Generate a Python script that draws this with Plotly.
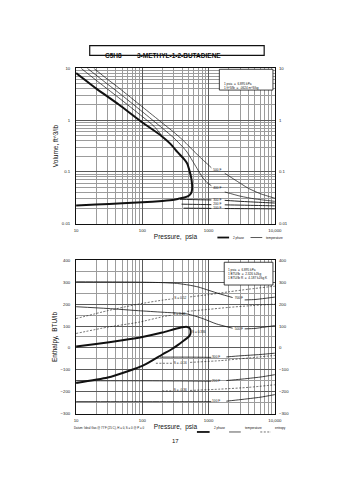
import plotly.graph_objects as go

# ---------------- Top chart: Volume vs Pressure ----------------
vol_sat_p = [10, 20, 44, 100, 192, 270, 340, 420, 475, 520, 548, 562, 565, 560, 545, 520, 480, 430, 360, 300, 200, 100, 50, 20, 10]
vol_sat_v = [8.1, 4.1, 2.0, 0.9, 0.5, 0.34, 0.24, 0.18, 0.145, 0.10, 0.075, 0.058, 0.05, 0.044, 0.039, 0.036, 0.0335, 0.032, 0.0305, 0.029, 0.0275, 0.0258, 0.0247, 0.0234, 0.0225]

vol_t500_p = [18.5, 30, 44, 100, 200, 300, 400, 474, 600, 800, 1000, 1100, None, 1750, 2500, 4000, 6000, 10000]
vol_t500_v = [10, 6.1, 4.2, 1.8, 0.88, 0.58, 0.42, 0.34, 0.25, 0.175, 0.135, 0.12, None, 0.094, 0.07, 0.048, 0.038, 0.031]
vol_t400_p = [14.8, 25, 44, 100, 200, 300, 400, 474, 560, 667, 800, 950, 1100, None, 1750, 3000, 5000, 10000]
vol_t400_v = [10, 5.9, 3.37, 1.45, 0.70, 0.45, 0.31, 0.24, 0.17, 0.117, 0.08, 0.062, 0.054, None, 0.041, 0.034, 0.030, 0.027]
vol_t300_p = [11.9, 20, 44, 100, 150, 195]
vol_t300_v = [10, 5.9, 2.7, 1.17, 0.76, 0.51]
vol_l300_p = [370, 700, 1100, None, 1750, 3000, 6000, 10000]
vol_l300_v = [0.0295, 0.029, 0.0287, None, 0.0282, 0.0270, 0.0258, 0.025]
vol_l200_p = [390, 700, 1100, None, 1750, 3000, 6000, 10000]
vol_l200_v = [0.0238, 0.0235, 0.0233, None, 0.0231, 0.0228, 0.0224, 0.0221]
vol_l100_p = [420, 700, 1100, None, 1750, 3000, 6000, 10000]
vol_l100_v = [0.0199, 0.0198, 0.0197, None, 0.0196, 0.0195, 0.0194, 0.0193]

vol_lab_text = ["500 F", "400 F", "300 F", "200 F", "100 F"]
vol_lab_p = [1350, 1350, 1350, 1350, 1350]
vol_lab_v = [0.107, 0.049, 0.0286, 0.0233, 0.0197]

# ---------------- Bottom chart: Enthalpy vs Pressure ----------------
enth_sat_p = [10, 20, 50, 100, 200, 300, 400, 470, 510, 530, 536, 530, 515, 480, 424, 350, 280, 200, 140, 100, 62, 30, 10]
enth_sat_h = [6, 18, 35, 50, 70, 85, 94, 96, 92, 84, 74, 64, 56, 46, 34, 15, -5, -30, -58, -82, -105, -135, -160]

enth_t700_p = [10, 50, 100, 200, 340, 500, 700, 1000, 1500, 2300, None, 3500, 5000, 7000, 10000]
enth_t700_h = [302, 301, 300, 298, 294, 287, 278, 263, 246, 230, None, 219, 221, 226, 232]
enth_t500_p = [10, 30, 87, 200, 474, 800, 1300, 2300, None, 3500, 5000, 7000, 10000]
enth_t500_h = [188, 180, 170, 163, 155, 135, 110, 90, None, 87, 89, 95, 102]
enth_t300_p = [185, 500, 1100, None, 1850, 3000, 6000, 10000]
enth_t300_h = [-42, -42, -43, None, -41, -36, -30, -24]
enth_t200_p = [10, 100, 500, 1100, None, 1850, 3000, 6000, 10000]
enth_t200_h = [-150, -150, -151, -152, None, -149, -143, -133, -122]
enth_t100_p = [10, 100, 500, 1100, None, 1850, 3000, 6000, 10000]
enth_t100_h = [-245, -245, -245, -245, None, -243, -236, -225, -213]

enth_s052_p = [10, 30, 87, 200, 290, None, 525, 1000, 2000, 4000, 10000]
enth_s052_h = [134, 170, 200, 218, 224, None, 233, 243, 256, 268, 282]
enth_s042_p = [10, 30, 87, 200, 280, None, 474, 1000, 2000, 4000, 10000]
enth_s042_h = [66, 95, 117, 142, 150, None, 167, 176, 185, 192, 200]
enth_sm016_p = [160, 290, None, 525, 1500, 4000, 10000]
enth_sm016_h = [-70, -70, None, -66, -58, -46, -34]
enth_sm036_p = [200, 290, None, 525, 1500, 4000, 10000]
enth_sm036_h = [-196, -196, None, -194, -188, -180, -168]

enth_lab_text = ["700 F", "500 F", "300 F", "200 F", "100 F", "S = 0.52", "S = 0.42", "S = 0.336", "S = -0.16", "S = -0.36"]
enth_lab_p = [2850, 2850, 1300, 1300, 1300, 374, 360, 710, 374, 374]
enth_lab_h = [225, 87, -42, -150, -243, 227, 155, 72, -70, -195]

FONT = "Liberation Sans, Arial, sans-serif"
W, H = 355, 480

fig = go.Figure()


def line(px, py, xa, ya, width, dash="solid", smooth=True):
    fig.add_trace(go.Scatter(
        x=px, y=py, xaxis=xa, yaxis=ya, mode="lines",
        line=dict(color="#111", width=width, dash=dash,
                  shape="spline" if smooth else "linear", smoothing=0.6),
        connectgaps=False, showlegend=False, hoverinfo="skip"))


# top chart lines
line(vol_sat_p, vol_sat_v, "x", "y", 2.0)
line(vol_t500_p, vol_t500_v, "x", "y", 0.7)
line(vol_t400_p, vol_t400_v, "x", "y", 0.7)
line(vol_t300_p, vol_t300_v, "x", "y", 0.7)
line(vol_l300_p, vol_l300_v, "x", "y", 0.9)
line(vol_l200_p, vol_l200_v, "x", "y", 0.9)
line(vol_l100_p, vol_l100_v, "x", "y", 0.9)
fig.add_trace(go.Scatter(x=vol_lab_p, y=vol_lab_v, text=vol_lab_text, mode="text",
                         textfont=dict(size=3.2, family=FONT, color="#111"),
                         xaxis="x", yaxis="y", showlegend=False, hoverinfo="skip"))

# bottom chart lines
line(enth_sat_p, enth_sat_h, "x2", "y2", 2.0)
for px, py in [(enth_t700_p, enth_t700_h), (enth_t500_p, enth_t500_h),
               (enth_t300_p, enth_t300_h), (enth_t200_p, enth_t200_h),
               (enth_t100_p, enth_t100_h)]:
    line(px, py, "x2", "y2", 0.8)
for px, py in [(enth_s052_p, enth_s052_h), (enth_s042_p, enth_s042_h),
               (enth_sm016_p, enth_sm016_h), (enth_sm036_p, enth_sm036_h)]:
    line(px, py, "x2", "y2", 0.6, dash="2px,1.5px")
fig.add_trace(go.Scatter(x=enth_lab_p, y=enth_lab_h, text=enth_lab_text, mode="text",
                         textfont=dict(size=3.2, family=FONT, color="#111"),
                         xaxis="x2", yaxis="y2", showlegend=False, hoverinfo="skip"))

# invisible anchors for right-hand axes
fig.add_trace(go.Scatter(x=[10], y=[1], xaxis="x", yaxis="y3", mode="markers",
                         marker=dict(opacity=0), showlegend=False, hoverinfo="skip"))
fig.add_trace(go.Scatter(x=[10], y=[0], xaxis="x2", yaxis="y4", mode="markers",
                         marker=dict(opacity=0), showlegend=False, hoverinfo="skip"))


def px2x(p):
    return p / W


def px2y(p):
    return 1 - p / H


XDOM = [px2x(76), px2x(280)]
TOPDOM = [px2y(224), px2y(67)]
BOTDOM = [px2y(416), px2y(261)]

tickfont = dict(size=4.3, family=FONT, color="#222")
titlefont = dict(size=6.5, family=FONT, color="#111")
MAJ = "#5a5a5a"
MIN = "#9c9c9c"

xcommon = dict(type="log", range=[1, 4], dtick=1, exponentformat="none",
               showline=True, linecolor="#111", linewidth=1, mirror=True,
               showgrid=True, gridcolor=MAJ, gridwidth=0.8, ticks="",
               tickfont=tickfont, ticklabelstandoff=2, zeroline=False,
               minor=dict(dtick="D1", showgrid=True, gridcolor=MIN, gridwidth=0.6))

fig.update_layout(
    width=W, height=H, margin=dict(l=0, r=0, t=0, b=0),
    paper_bgcolor="white", plot_bgcolor="white", showlegend=False,
    font=dict(family=FONT, color="#111"),
    xaxis=dict(domain=XDOM, anchor="y",
               title=dict(text="Pressure,  psia", font=titlefont, standoff=2), **xcommon),
    yaxis=dict(domain=TOPDOM, anchor="x", type="log", range=[-2, 1], dtick=1,
               exponentformat="none", showline=True, linecolor="#111", linewidth=1,
               mirror=True, showgrid=True, gridcolor=MAJ, gridwidth=0.8, ticks="",
               tickfont=tickfont, ticklabelstandoff=4, zeroline=False,
               title=dict(text="Volume, ft^3/lb", font=titlefont, standoff=2),
               minor=dict(dtick="D1", showgrid=True, gridcolor=MIN, gridwidth=0.6)),
    yaxis3=dict(overlaying="y", side="right", anchor="x", type="log", range=[-2, 1],
                dtick=1, exponentformat="none", showgrid=False, ticks="",
                tickfont=tickfont, ticklabelstandoff=3, zeroline=False),
    xaxis2=dict(domain=XDOM, anchor="y2",
                title=dict(text="Pressure,  psia", font=titlefont, standoff=2), **xcommon),
    yaxis2=dict(domain=BOTDOM, anchor="x2", range=[-300, 400], dtick=100,
                showline=True, linecolor="#111", linewidth=1, mirror=True,
                showgrid=True, gridcolor=MAJ, gridwidth=0.8, ticks="",
                tickfont=tickfont, ticklabelstandoff=4, zeroline=False,
                title=dict(text="Enthalpy,  BTU/lb", font=titlefont, standoff=2),
                minor=dict(dtick=50, showgrid=True, gridcolor=MIN, gridwidth=0.6)),
    yaxis4=dict(overlaying="y2", side="right", anchor="x2", range=[-300, 400],
                dtick=100, showgrid=False, ticks="", tickfont=tickfont,
                ticklabelstandoff=3, zeroline=False),
)

shapes = []
annots = []
# title box
shapes.append(dict(type="rect", xref="paper", yref="paper",
                   x0=px2x(90), x1=px2x(269), y0=px2y(54), y1=px2y(44),
                   line=dict(color="#111", width=1.2)))
annots.append(dict(text="<b>C5H8</b>", x=px2x(104), y=px2y(49), xref="paper", yref="paper",
                   showarrow=False, font=dict(size=6.5, family=FONT, color="#111")))
annots.append(dict(text="<b>3-METHYL-1-2-BUTADIENE</b>", x=px2x(182), y=px2y(49),
                   xref="paper", yref="paper", showarrow=False,
                   font=dict(size=6.5, family=FONT, color="#111")))

# conversion boxes
shapes.append(dict(type="rect", xref="paper", yref="paper", layer="above",
                   x0=px2x(223), x1=px2x(278), y0=px2y(89), y1=px2y(68),
                   fillcolor="white", line=dict(color="#111", width=0.8)))
annots.append(dict(text="1 psia  =  6.895 kPa<br>1 ft^3/lb  =  .0624 m^3/kg",
                   x=px2x(226), y=px2y(78.5), xref="paper", yref="paper",
                   xanchor="left", align="left", showarrow=False,
                   font=dict(size=3.1, family=FONT, color="#111")))
shapes.append(dict(type="rect", xref="paper", yref="paper", layer="above",
                   x0=px2x(228), x1=px2x(278), y0=px2y(286), y1=px2y(263),
                   fillcolor="white", line=dict(color="#111", width=0.8)))
annots.append(dict(text="1 psia  =  6.895 kPa<br>1 BTU/lb  =  2.326 kJ/kg<br>1 BTU/lb R  =  4.187 kJ/kg K",
                   x=px2x(230), y=px2y(274.5), xref="paper", yref="paper",
                   xanchor="left", align="left", showarrow=False,
                   font=dict(size=3.1, family=FONT, color="#111")))


def key(x0, x1, y, width, dash="solid"):
    shapes.append(dict(type="line", xref="paper", yref="paper",
                       x0=px2x(x0), x1=px2x(x1), y0=px2y(y), y1=px2y(y),
                       line=dict(color="#111", width=width, dash=dash)))


def keytext(x, y, t):
    annots.append(dict(text=t, x=px2x(x), y=px2y(y), xref="paper", yref="paper",
                       xanchor="left", showarrow=False,
                       font=dict(size=3.1, family=FONT, color="#111")))


key(221, 233, 238, 1.8)
keytext(235, 238, "2 phase")
key(255, 267, 238, 0.7)
keytext(269, 238, "temperature")

key(200, 213, 434.5, 1.8)
keytext(215, 434.5, "2 phase")
key(233, 245, 434.5, 0.7)
keytext(247, 434.5, "temperature")
key(265, 276, 434.5, 0.6, dash="2px,1.5px")
keytext(278, 434.5, "entropy")

annots.append(dict(text="Datum: Ideal Gas @ 77 F (25 C), H = 0, S = 0 @ P = 0",
                   x=px2x(72), y=px2y(434.5), xref="paper", yref="paper",
                   xanchor="left", showarrow=False,
                   font=dict(size=2.9, family=FONT, color="#111")))
annots.append(dict(text="17", x=px2x(178), y=px2y(449), xref="paper", yref="paper",
                   showarrow=False, font=dict(size=6, family=FONT, color="#111")))

fig.update_layout(shapes=shapes, annotations=annots)
fig.write_html("out.html", config={"displayModeBar": False},
               post_script="document.body.style.margin='0';document.body.style.overflow='hidden';")
